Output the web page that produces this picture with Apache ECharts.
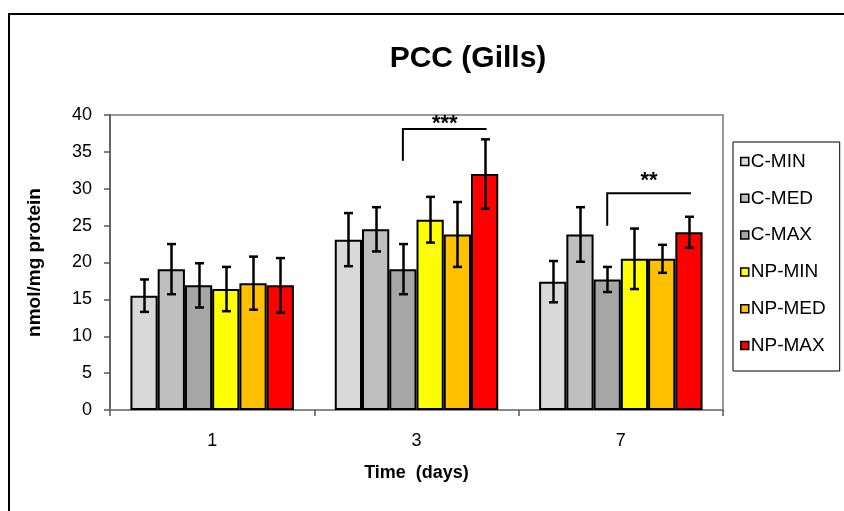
<!DOCTYPE html>
<html>
<head>
<meta charset="utf-8">
<script src="https://cdn.jsdelivr.net/npm/echarts@6/dist/echarts.min.js"></script>
<style>
html,body{margin:0;padding:0;background:#fff;}
#chart{width:844px;height:511px;}
</style>
</head>
<body>
<div id="chart"></div>
<script>
// ---- data ----
const categories = ['1', '3', '7'];
const seriesNames = ['C-MIN', 'C-MED', 'C-MAX', 'NP-MIN', 'NP-MED', 'NP-MAX'];
const cMin  = [15.5, 23.1, 17.4];
const cMed  = [19.1, 24.5, 23.8];
const cMax  = [16.9, 19.1, 17.7];
const npMin = [16.4, 25.8, 20.5];
const npMed = [17.2, 23.8, 20.5];
const npMax = [16.9, 32.0, 24.1];
const errCMin  = [2.2, 3.6, 2.8];
const errCMed  = [3.4, 3.0, 3.7];
const errCMax  = [3.0, 3.4, 1.7];
const errNpMin = [3.0, 3.1, 4.1];
const errNpMed = [3.6, 4.4, 1.9];
const errNpMax = [3.7, 4.7, 2.1];
const yTicks = [0, 5, 10, 15, 20, 25, 30, 35, 40];
// significance brackets: [categoryIndex, fromSeries, toSeries, lineValue, lowerEndValue, textValue, text]
const brackets = [
  [1, 2, 5, 38.1, 33.8, 38.8, '***'],
  [2, 2, 5, 29.4, 25.0, 31.1, '**']
];

const values = [cMin, cMed, cMax, npMin, npMed, npMax];
const errors = [errCMin, errCMed, errCMax, errNpMin, errNpMed, errNpMax];
const colors = ['#d9d9d9', '#bfbfbf', '#a6a6a6', '#ffff00', '#ffc000', '#ff0000'];
const FONT = '"Liberation Sans", Arial, sans-serif';
const NS = seriesNames.length;
const GAP = 0.2;

const errData = [];
values.forEach((arr, s) => arr.forEach((v, c) => errData.push([c, s, v, errors[s][c]])));

function barX(api, c, s) {
  const center = api.coord([c, 0])[0];
  const bw = api.size([1, 0])[0];
  const w = bw * (1 - GAP) / NS;
  return center + (s - (NS - 1) / 2) * w;
}

const chart = echarts.init(document.getElementById('chart'));
const series = seriesNames.map((name, s) => ({
  name: name,
  type: 'bar',
  data: values[s],
  barGap: '0%',
  barCategoryGap: '20%',
  itemStyle: { color: colors[s], borderColor: '#000', borderWidth: 2 },
  emphasis: { disabled: true },
  z: 2
}));

series.push({
  type: 'custom',
  name: 'err',
  data: errData,
  z: 5,
  silent: true,
  renderItem: function (params, api) {
    const c = api.value(0), s = api.value(1), v = api.value(2), e = api.value(3);
    const x = Math.round(barX(api, c, s)) + 0.5;
    const yt = api.coord([c, v + e])[1];
    const yb = api.coord([c, v - e])[1];
    const cap = 4.5;
    const st = { stroke: '#000', lineWidth: 2.5 };
    return {
      type: 'group',
      children: [
        { type: 'line', shape: { x1: x, y1: yt, x2: x, y2: yb }, style: st },
        { type: 'line', shape: { x1: x - cap, y1: yt, x2: x + cap, y2: yt }, style: st },
        { type: 'line', shape: { x1: x - cap, y1: yb, x2: x + cap, y2: yb }, style: st }
      ]
    };
  }
});

series.push({
  type: 'custom',
  name: 'sig',
  data: brackets,
  z: 6,
  silent: true,
  encode: { x: 0, y: 3 },
  renderItem: function (params, api) {
    const c = api.value(0), s1 = api.value(1), s2 = api.value(2);
    const yl = api.value(3), ylow = api.value(4), yt = api.value(5);
    const txt = brackets[params.dataIndex][6];
    const x1 = barX(api, c, s1), x2 = barX(api, c, s2) + 2;
    const py = api.coord([c, yl])[1];
    const pl = api.coord([c, ylow])[1];
    const pt = api.coord([c, yt])[1];
    return {
      type: 'group',
      children: [
        { type: 'polyline', shape: { points: [[x1, pl], [x1, py], [x2, py]] },
          style: { stroke: '#000', lineWidth: 2, fill: null } },
        { type: 'text', x: (x1 + x2) / 2, y: pt,
          style: { text: txt, font: 'bold 22px ' + FONT, fill: '#000', align: 'center', verticalAlign: 'middle' } }
      ]
    };
  }
});

chart.setOption({
  animation: false,
  backgroundColor: '#fff',
  title: {
    text: 'PCC (Gills)',
    left: 463, top: 39, textAlign: 'center',
    textStyle: { fontFamily: FONT, fontWeight: 'bold', fontSize: 30, color: '#000' }
  },
  graphic: [{
    type: 'rect', shape: { x: 9, y: 14, width: 900, height: 600 },
    style: { fill: null, stroke: '#000', lineWidth: 2 }, silent: true, z: 100
  }],
  legend: {
    data: seriesNames,
    orient: 'vertical',
    left: 733, top: 142,
    itemWidth: 8, itemHeight: 8,
    itemGap: 17.8,
    padding: [10, 14, 16, 7],
    borderColor: '#000', borderWidth: 1,
    icon: 'rect',
    itemStyle: { borderColor: '#000', borderWidth: 1.5 },
    textStyle: { fontFamily: FONT, fontSize: 19, color: '#000', lineHeight: 19, padding: [0, 0, 0, -3] },
    selectedMode: false
  },
  grid: {
    left: 110, right: 121, top: 115, bottom: 101,
    show: true, borderColor: '#999', borderWidth: 2, backgroundColor: '#fff'
  },
  xAxis: {
    type: 'category',
    data: categories,
    name: 'Time  (days)',
    nameLocation: 'middle',
    nameGap: 54,
    nameTextStyle: { fontFamily: FONT, fontWeight: 'bold', fontSize: 18, color: '#000' },
    axisLine: { lineStyle: { color: '#888', width: 2 } },
    axisTick: { show: true, length: 6, lineStyle: { color: '#555', width: 1.5 } },
    axisLabel: { fontFamily: FONT, fontSize: 18, color: '#000', margin: 22 }
  },
  yAxis: {
    type: 'value',
    min: yTicks[0], max: yTicks[yTicks.length - 1], interval: yTicks[1] - yTicks[0],
    name: 'nmol/mg protein',
    nameLocation: 'middle',
    nameGap: 66,
    nameRotate: 90,
    nameTextStyle: { fontFamily: FONT, fontWeight: 'bold', fontSize: 19, color: '#000' },
    axisLine: { show: true, lineStyle: { color: '#666', width: 2 } },
    axisTick: { show: true, length: 6, lineStyle: { color: '#555', width: 1.5 } },
    splitLine: { show: false },
    axisLabel: { fontFamily: FONT, fontSize: 18, color: '#000', margin: 18 }
  },
  series: series
});
</script>
</body>
</html>
